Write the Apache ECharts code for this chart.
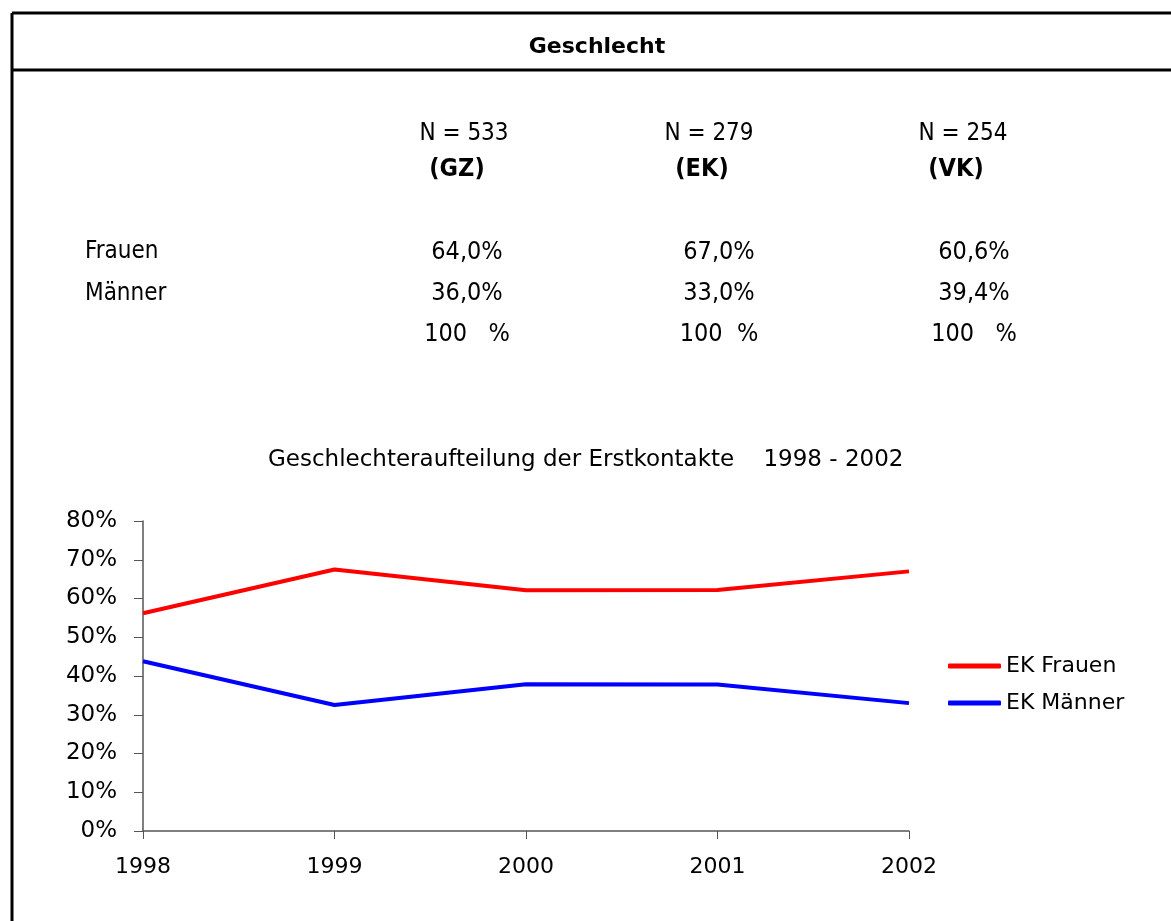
<!DOCTYPE html>
<html>
<head>
<meta charset="utf-8">
<script src="https://cdn.jsdelivr.net/npm/echarts@6/dist/echarts.min.js"></script>
<style>
  html, body { margin: 0; padding: 0; background: #fff; }
  #chart { width: 1171px; height: 921px; }
</style>
</head>
<body>
<div id="chart"></div>
<script>
// Table data
const groupLabels = ['N = 533', 'N = 279', 'N = 254'];
const groupCodes = ['(GZ)', '(EK)', '(VK)'];
const rowLabels = ['Frauen', 'Männer'];
const frauenShare = ['64,0%', '67,0%', '60,6%'];
const maennerShare = ['36,0%', '33,0%', '39,4%'];
const totalShare = ['100   %', '100  %', '100   %'];

// Line chart data
const years = ['1998', '1999', '2000', '2001', '2002'];
const ekFrauen = [56.2, 67.5, 62.1, 62.2, 67.0];
const ekMaenner = [43.8, 32.5, 37.9, 37.8, 33.0];

const tableFont = '"DejaVu Sans Condensed", "DejaVu Sans", sans-serif';
const chartFont = '"DejaVu Sans", Verdana, sans-serif';

document.addEventListener('DOMContentLoaded', function() {
    const myChart = echarts.init(document.getElementById('chart'));

    // column centers for the three groups
    const colX = [464, 709, 963];
    const valX = [467, 719, 974];

    const graphics = [
        // frame
        { type: 'line', shape: { x1: 12, y1: 13, x2: 1171, y2: 13 }, style: { stroke: '#000', lineWidth: 3 } },
        { type: 'line', shape: { x1: 12, y1: 13, x2: 12, y2: 921 }, style: { stroke: '#000', lineWidth: 3 } },
        { type: 'line', shape: { x1: 12, y1: 70, x2: 1171, y2: 70 }, style: { stroke: '#000', lineWidth: 3 } },
        {
            type: 'text', x: 597, y: 47,
            style: { text: 'Geschlecht', font: 'bold 22px ' + chartFont, fill: '#000', textAlign: 'center', textVerticalAlign: 'middle' }
        }
    ];

    groupLabels.forEach((label, i) => {
        graphics.push({
            type: 'text', x: colX[i], y: 134,
            style: { text: label, font: '24px ' + tableFont, fill: '#000', textAlign: 'center', textVerticalAlign: 'middle' }
        });
        graphics.push({
            type: 'text', x: colX[i] - 7, y: 169,
            style: { text: groupCodes[i], font: 'bold 25px ' + tableFont, fill: '#000', textAlign: 'center', textVerticalAlign: 'middle' }
        });
    });

    rowLabels.forEach((label, r) => {
        graphics.push({
            type: 'text', x: 85, y: 252 + r * 42,
            style: { text: label, font: '24px ' + tableFont, fill: '#000', textAlign: 'left', textVerticalAlign: 'middle' }
        });
    });

    [frauenShare, maennerShare, totalShare].forEach((row, r) => {
        row.forEach((val, i) => {
            graphics.push({
                type: 'text', x: valX[i], y: 252 + r * 41,
                style: { text: val, font: '25px ' + tableFont, fill: '#000', textAlign: 'center', textVerticalAlign: 'middle' }
            });
        });
    });

    const option = {
        backgroundColor: '#fff',
        animation: false,
        title: {
            text: 'Geschlechteraufteilung der Erstkontakte    1998 - 2002',
            left: 263,
            top: 444,
            textStyle: { fontFamily: chartFont, fontSize: 23, fontWeight: 'normal', color: '#000' }
        },
        legend: {
            orient: 'vertical',
            left: 943,
            top: 650,
            icon: 'roundRect',
            itemWidth: 53,
            itemHeight: 5,
            itemGap: 15,
            textStyle: { fontFamily: chartFont, fontSize: 22, color: '#000', padding: [0, 0, 0, 0] },
            data: ['EK Frauen', 'EK Männer']
        },
        grid: {
            left: 143,
            right: 262,
            top: 521,
            bottom: 90,
            containLabel: false
        },
        xAxis: {
            type: 'category',
            boundaryGap: false,
            data: years,
            axisLine: { lineStyle: { color: '#555', width: 1.5 } },
            axisTick: { show: true, length: 8, alignWithLabel: true, lineStyle: { color: '#555' } },
            axisLabel: { fontFamily: chartFont, fontSize: 22, color: '#000', margin: 25 }
        },
        yAxis: {
            type: 'value',
            min: 0,
            max: 80,
            interval: 10,
            axisLine: { show: true, lineStyle: { color: '#555', width: 1.5 } },
            axisTick: { show: true, length: 9, inside: false, lineStyle: { color: '#555' } },
            splitLine: { show: false },
            axisLabel: { fontFamily: chartFont, fontSize: 23, color: '#000', margin: 26, formatter: '{value}%' }
        },
        series: [
            {
                name: 'EK Frauen',
                type: 'line',
                data: ekFrauen,
                symbol: 'none',
                lineStyle: { color: '#ff0000', width: 4 },
                itemStyle: { color: '#ff0000' }
            },
            {
                name: 'EK Männer',
                type: 'line',
                data: ekMaenner,
                symbol: 'none',
                lineStyle: { color: '#0000ff', width: 4 },
                itemStyle: { color: '#0000ff' }
            }
        ],
        graphic: graphics
    };

    myChart.setOption(option);
});
</script>
</body>
</html>
